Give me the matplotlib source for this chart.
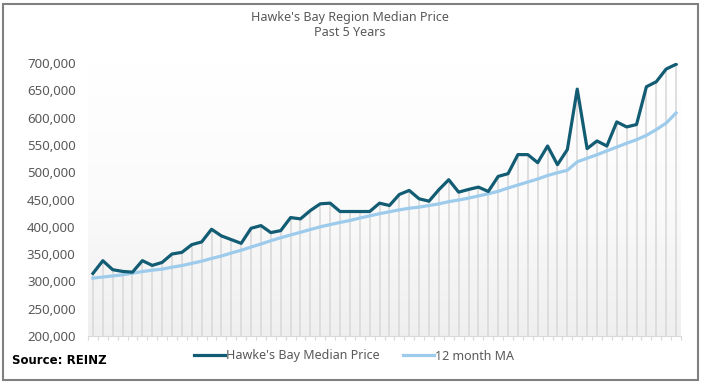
import numpy as np
import matplotlib
matplotlib.use('Agg')
from matplotlib import pyplot as plt
from matplotlib.patches import Rectangle
from matplotlib.colors import LinearSegmentedColormap

plt.rcParams['font.family'] = ['Noto Sans', 'DejaVu Sans']

# monthly values, past 5 years (60 months)
median_price = [
    314600, 337900, 321400, 318300, 316900, 338000, 329300, 334800, 350200, 353200,
    367300, 372300, 395500, 383300, 376500, 369700, 397300, 402200, 389400, 393000,
    416900, 414500, 429800, 442100, 443300, 428000, 428000, 428000, 428000, 443300,
    439000, 459200, 466600, 451300, 446900, 467900, 486200, 463500, 468400, 472700,
    464700, 492300, 497300, 532200, 532200, 517500, 548000, 513800, 541400, 652200,
    543200, 557200, 548000, 592100, 582900, 587300, 656500, 665700, 689000, 697600,
]
moving_avg = [
    306000, 308000, 310000, 312000, 315000, 318000, 320500, 322500, 326000, 329000,
    333000, 337000, 342000, 346500, 352000, 357000, 363000, 368500, 374500, 380000,
    385000, 390000, 395000, 400000, 404000, 408000, 411500, 416000, 420000, 424000,
    427500, 431000, 434000, 436000, 439000, 442000, 446000, 449000, 452500, 456500,
    460500, 465000, 471000, 476500, 482000, 487500, 494000, 499000, 503500, 519000,
    525500, 532000, 539000, 546000, 553000, 559500, 567500, 578000, 590000, 608500,
]
y_ticks = list(range(200000, 700001, 50000))

months = np.arange(len(median_price))
text_grey = '#595959'

fig = plt.figure(figsize=(7.03, 3.84), dpi=100)
ax = fig.add_axes([88 / 703, 48 / 384, 593 / 703, 273 / 384])

# gradient plot background, white at top -> light grey at bottom
cmap = LinearSegmentedColormap.from_list('bg', ['#ffffff', '#fbfbfb', '#efefef'])
grad = np.linspace(0, 1, 256).reshape(-1, 1)
ax.imshow(grad, cmap=cmap, aspect='auto', extent=(-0.5, len(months) - 0.5, 200000, 700000),
          zorder=0, vmin=0, vmax=1)

# drop lines
ax.vlines(months, 200000, median_price, color='#dadada', linewidth=1.2, zorder=1)

ax.plot(months, moving_avg, color='#9dcbec', linewidth=2.3, label='12 month MA', zorder=3,
        solid_joinstyle='round')
ax.plot(months, median_price, color='#125c74', linewidth=2.3, label="Hawke's Bay Median Price",
        zorder=4, solid_joinstyle='round')

ax.set_xlim(-0.5, len(months) - 0.5)
ax.set_ylim(200000, 700000)
ax.set_yticks(y_ticks)
ax.set_yticklabels([f'{v:,}' for v in y_ticks], color=text_grey, fontsize=9.5)
ax.set_xticks(np.arange(-0.5, len(months), 1))
ax.set_xticklabels([])
ax.tick_params(axis='x', length=3, color='#d9d9d9', width=0.8)
ax.tick_params(axis='y', length=0, pad=9)
for s in ['top', 'right', 'left']:
    ax.spines[s].set_visible(False)
ax.spines['bottom'].set_color('#d9d9d9')
ax.spines['bottom'].set_linewidth(0.8)

fig.text(350 / 703, 1 - 17 / 384, "Hawke's Bay Region Median Price", ha='center', va='center',
         color=text_grey, fontsize=9)
fig.text(350 / 703, 1 - 33 / 384, 'Past 5 Years', ha='center', va='center',
         color=text_grey, fontsize=9)
fig.text(12 / 703, 1 - 361 / 384, 'Source: REINZ', ha='left', va='center',
         color='black', fontsize=8.5, fontweight='bold', family=['DejaVu Sans'])

h, l = ax.get_legend_handles_labels()
fig.legend(h[::-1], l[::-1], loc='center', bbox_to_anchor=(354 / 703, 1 - 356 / 384), ncol=2,
           frameon=False, fontsize=9, handlelength=2.5, handletextpad=0.1, columnspacing=1.8,
           labelcolor=text_grey)

fig.patches.append(Rectangle((3 / 703, 4 / 384), 695 / 703, 376 / 384, transform=fig.transFigure,
                             fill=False, edgecolor='#808080', linewidth=1.5))

fig.savefig('out.png', dpi=100)
